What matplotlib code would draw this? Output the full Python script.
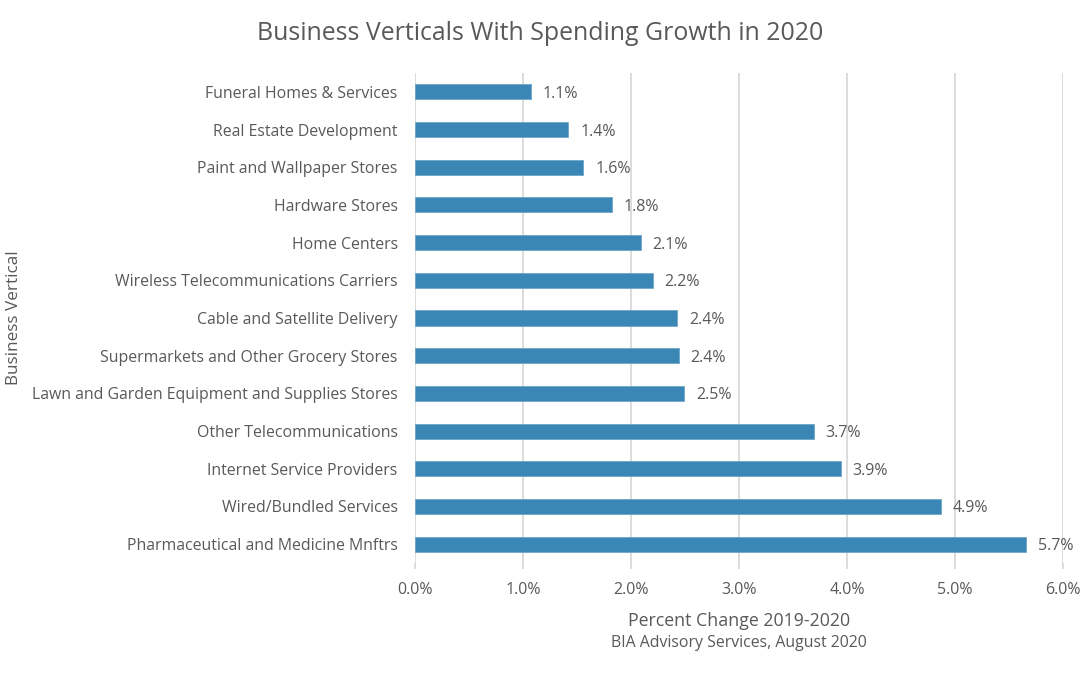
import matplotlib
matplotlib.use("Agg")
import matplotlib.pyplot as plt
from matplotlib.ticker import FuncFormatter

categories = [
    "Funeral Homes & Services",
    "Real Estate Development",
    "Paint and Wallpaper Stores",
    "Hardware Stores",
    "Home Centers",
    "Wireless Telecommunications Carriers",
    "Cable and Satellite Delivery",
    "Supermarkets and Other Grocery Stores",
    "Lawn and Garden Equipment and Supplies Stores",
    "Other Telecommunications",
    "Internet Service Providers",
    "Wired/Bundled Services",
    "Pharmaceutical and Medicine Mnftrs",
]
values = [1.07, 1.42, 1.56, 1.82, 2.09, 2.20, 2.43, 2.44, 2.49, 3.69, 3.94, 4.87, 5.66]
x_ticks = [0, 1, 2, 3, 4, 5, 6]

TEXT = "#595959"
BAR = "#3a87b5"
GRID = "#d9d9d9"
FONT = ["Open Sans", "DejaVu Sans"]
plt.rcParams["font.family"] = FONT

fig = plt.figure(figsize=(10.8, 6.75), dpi=100)
ax = fig.add_axes([415 / 1080, 1 - 563 / 675, 648 / 1080, 490 / 675])

ypos = list(range(len(categories)))
ax.barh(ypos, values, height=0.4, color=BAR, edgecolor="#6fa6c9", linewidth=0.6, zorder=3)
for y, v in zip(ypos, values):
    ax.text(v + 0.11, y, f"{v:.1f}%", va="center_baseline", ha="left", fontsize=11.5, color=TEXT)

ax.set_ylim(len(categories) - 0.5, -0.5)
ax.set_xlim(0, 6)
ax.set_yticks(ypos)
ax.set_yticklabels(categories)
ax.set_xticks(x_ticks)
ax.xaxis.set_major_formatter(FuncFormatter(lambda x, p: f"{x:.1f}%"))
ax.grid(axis="x", color=GRID, linewidth=1.3, zorder=0)
for s in ax.spines.values():
    s.set_visible(False)
ax.tick_params(axis="y", length=0, pad=12.5, labelsize=11.4, labelcolor=TEXT)
for lbl in ax.get_yticklabels():
    lbl.set_verticalalignment("center_baseline")
ax.tick_params(axis="x", length=4, width=1.3, color=GRID, pad=9.5, labelsize=11.5, labelcolor=TEXT)

ax.set_xlabel("Percent Change 2019-2020", fontsize=12.8, color=TEXT, labelpad=10)
fig.text(739 / 1080, 1 - 643 / 675, "BIA Advisory Services, August 2020", ha="center", va="center",
         fontsize=11.4, color=TEXT)
fig.text(14 / 1080, 1 - 318 / 675, "Business Vertical", rotation=90, ha="center", va="center",
         fontsize=12.3, color=TEXT)
fig.text(540 / 1080, 1 - 33 / 675, "Business Verticals With Spending Growth in 2020", ha="center",
         va="center", fontsize=17.9, color=TEXT)

fig.savefig("out.png", dpi=100, facecolor="white")
